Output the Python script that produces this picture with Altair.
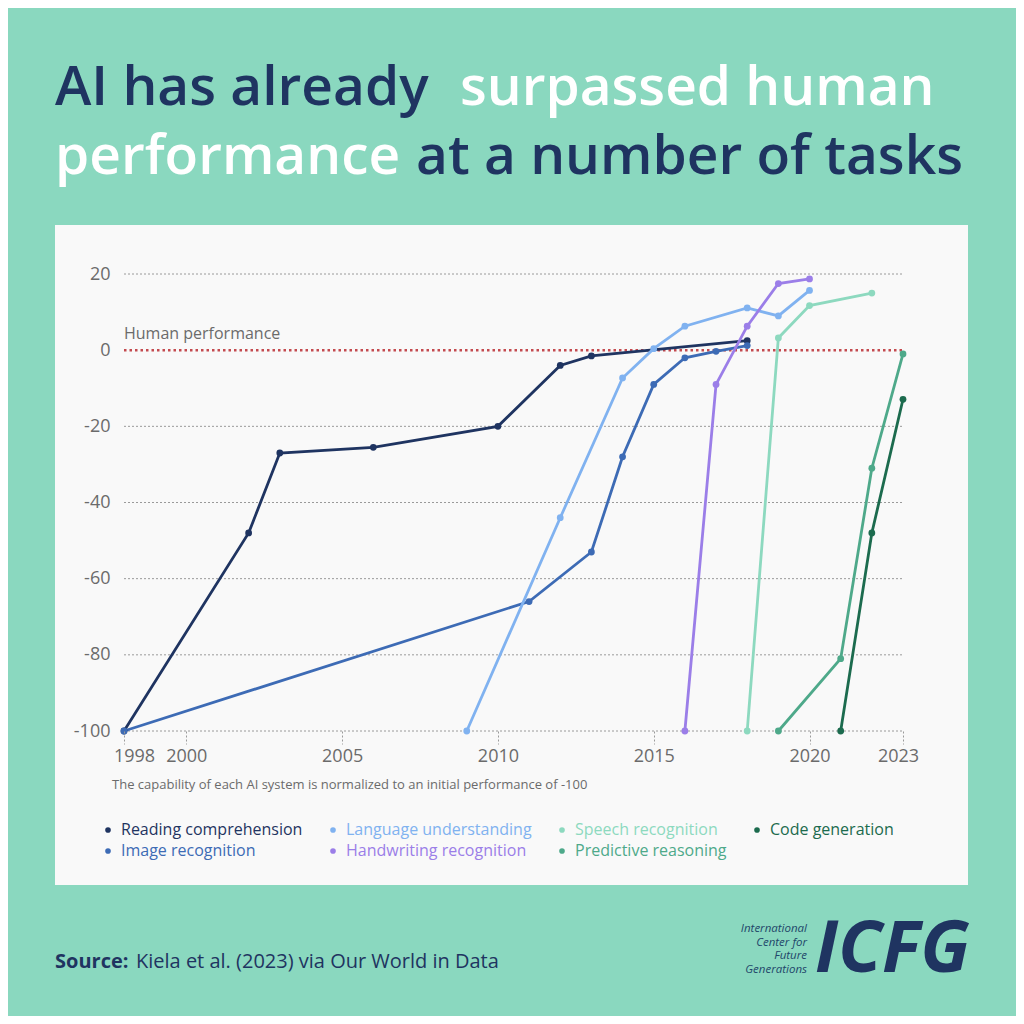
import altair as alt
import pandas as pd

# ---- data ----
series_order = ["Reading comprehension", "Image recognition", "Language understanding",
                "Handwriting recognition", "Speech recognition", "Predictive reasoning",
                "Code generation"]
series_colors = ["#1f3461", "#3d6bb5", "#80b2f0", "#9b7ee8", "#8dd9bf", "#4ea98a", "#1c6b4e"]

reading_years = [1998, 2002, 2003, 2006, 2010, 2012, 2013, 2018]
reading_vals = [-100, -48, -27, -25.5, -20, -4, -1.5, 2.5]
image_years = [1998, 2011, 2013, 2014, 2015, 2016, 2017, 2018]
image_vals = [-100, -66, -53, -28, -9, -2, -0.3, 1.2]
language_years = [2009, 2012, 2014, 2015, 2016, 2018, 2019, 2020]
language_vals = [-100, -44, -7.3, 0.4, 6.3, 11.1, 9.0, 15.7]
handwriting_years = [2016, 2017, 2018, 2019, 2020]
handwriting_vals = [-100, -9, 6.3, 17.5, 18.7]
speech_years = [2018, 2019, 2020, 2022]
speech_vals = [-100, 3.2, 11.7, 15.0]
predictive_years = [2019, 2021, 2022, 2023]
predictive_vals = [-100, -81, -31, -1]
code_years = [2021, 2022, 2023]
code_vals = [-100, -48, -12.9]

x_ticks = [1998, 2000, 2005, 2010, 2015, 2020, 2023]
y_ticks = [-100, -80, -60, -40, -20, 0, 20]
grid_vals = [-100, -80, -60, -40, -20, 20]

rows = []
for name, ys, vs in [
    ("Reading comprehension", reading_years, reading_vals),
    ("Image recognition", image_years, image_vals),
    ("Language understanding", language_years, language_vals),
    ("Handwriting recognition", handwriting_years, handwriting_vals),
    ("Speech recognition", speech_years, speech_vals),
    ("Predictive reasoning", predictive_years, predictive_vals),
    ("Code generation", code_years, code_vals),
]:
    for yr, v in zip(ys, vs):
        rows.append({"series": name, "year": yr, "value": v})
df = pd.DataFrame(rows)

NAVY = "#1f3461"
BG = "#8ad8bf"
CARD = "#f9f9f9"
GREY = "#6b6b6b"
FONT = "Open Sans"

W, H = 779, 457

xscale = alt.Scale(domain=[1998, 2023], nice=False, zero=False)
yscale = alt.Scale(domain=[-100, 20], nice=False, zero=False)
cscale = alt.Scale(domain=series_order, range=series_colors)

one = alt.Data(values=[{}])


def txt(text, x, y, size, color, weight="normal", style="normal", align="left",
        baseline="alphabetic", line_height=None):
    kw = dict(text=text, fontSize=size, color=color, fontWeight=weight, fontStyle=style,
              align=align, baseline=baseline, font=FONT)
    if line_height is not None:
        kw["lineHeight"] = line_height
    return alt.Chart(one).mark_text(**kw).encode(x=alt.value(x), y=alt.value(y))


card = alt.Chart(one).mark_rect(color=CARD).encode(
    x=alt.value(-69), x2=alt.value(844), y=alt.value(-49), y2=alt.value(611)
)

grid = alt.Chart(pd.DataFrame({"g": grid_vals, "x0": 1998, "x1": 2023})).mark_rule(
    color="#9a9a9a", strokeDash=[2, 2], strokeWidth=1
).encode(
    y=alt.Y("g:Q", scale=yscale),
    x=alt.X("x0:Q", scale=xscale),
    x2="x1:Q",
)

human = alt.Chart(pd.DataFrame({"y": [0], "x0": [1998], "x1": [2023]})).mark_rule(
    color="#c44a4f", strokeDash=[2.5, 3], strokeWidth=2.5
).encode(
    y=alt.Y("y:Q", scale=yscale),
    x=alt.X("x0:Q", scale=xscale),
    x2="x1:Q",
)

human_label = alt.Chart(pd.DataFrame({"y": [0], "x": [1998]})).mark_text(
    text="Human performance", align="left", baseline="middle", dy=-16,
    fontSize=16, color=GREY, font=FONT
).encode(x=alt.X("x:Q", scale=xscale), y=alt.Y("y:Q", scale=yscale))

legend = alt.Legend(
    title=None, orient="none", legendX=-24, legendY=548, columns=4,
    columnPadding=22, rowPadding=5, symbolType="circle", symbolSize=32,
    symbolStrokeWidth=0, labelFontSize=16, labelFont=FONT, labelOffset=5,
    labelLimit=400,
    labelColor={"expr": "scale('color', datum.value)"},
)

base = alt.Chart(df).encode(
    x=alt.X("year:Q", scale=xscale, title=None,
            axis=alt.Axis(values=x_ticks, format="d", grid=False, domain=False,
                          tickDash=[2, 2], tickColor="#9a9a9a", tickSize=13,
                          labelPadding=3, labelFontSize=18, labelColor=GREY,
                          labelFont=FONT, zindex=1, labelOverlap=False, labelFlush=False,
                          labelOffset={"expr": "datum.value == 1998 ? 10 : (datum.value == 2023 ? -5 : 0)"})),
    y=alt.Y("value:Q", scale=yscale, title=None,
            axis=alt.Axis(values=y_ticks, grid=False, domain=False, ticks=False,
                          labelPadding=14, labelFontSize=18, labelColor=GREY,
                          labelFont=FONT, labelExpr="'' + datum.value", zindex=1,
                          labelOverlap=False)),
    color=alt.Color("series:N", scale=cscale, legend=legend),
)

lines = base.mark_line(strokeWidth=2.8).encode(detail="series:N")

points = base.mark_circle(size=46, opacity=1)

note = txt("The capability of each AI system is normalized to an initial performance of -100",
           -12, 511, 13, GREY, baseline="middle")

TS = 55
title1a = txt("AI has already", -69, -169, TS, NAVY, weight=600)
title1b = txt("surpassed human", 336, -169, TS, "#ffffff", weight=600)
title2a = txt("performance", -69, -100, TS, "#ffffff", weight=600)
title2b = txt("at a number of tasks", 292, -100, TS, NAVY, weight=600)

src1 = txt("Source:", -69, 694, 20, NAVY, weight="bold")
src2 = txt("Kiela et al. (2023) via Our World in Data", 12, 694, 20, NAVY)

logo = txt("ICFG", 846, 698, 72, NAVY, weight="bold", style="italic", align="right")
logo_small = txt(["International", "Center for", "Future", "Generations"],
                 683, 658, 11.5, "#22476a", style="italic", align="right", line_height=13.5)

chart = alt.layer(
    card, grid, human, human_label, lines, points, note,
    title1a, title1b, title2a, title2b, src1, src2, logo, logo_small,
).properties(
    width=W, height=H,
    autosize=alt.AutoSizeParams(type="none"),
    padding={"left": 116, "top": 266, "right": 113, "bottom": 285},
    background=BG,
).configure_view(stroke=None)

chart.save("out.html", embed_options={"renderer": "svg", "actions": False})
